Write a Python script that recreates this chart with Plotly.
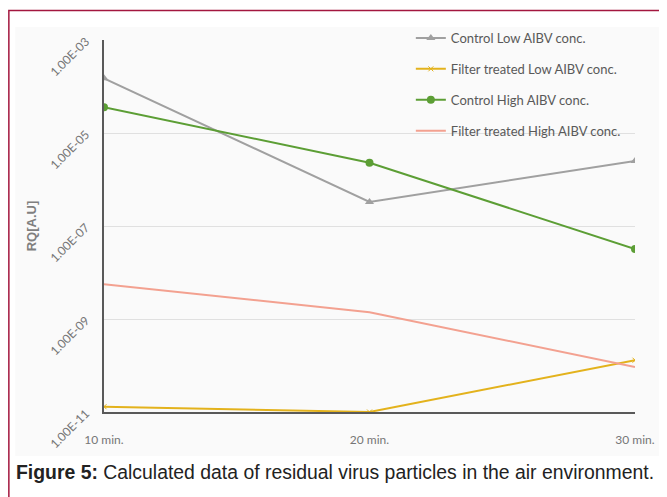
import plotly.graph_objects as go

times = ["10 min.", "20 min.", "30 min."]
control_low = [1.5e-4, 3.3e-7, 2.5e-6]
filter_low = [1.3e-11, 1.0e-11, 1.3e-10]
control_high = [3.6e-5, 2.3e-6, 3.2e-8]
filter_high = [5.6e-9, 1.4e-9, 9.3e-11]
ytick_vals = [1e-11, 1e-9, 1e-7, 1e-5, 1e-3]
ytick_text = ["1.00E-11", "1.00E-09", "1.00E-07", "1.00E-05", "1.00E-03"]

FONT = "Lato, Liberation Sans, Arial"
OFF = 8  # default page body margin
W, H = 667 - OFF, 497 - OFF
L, R, T, B = 104 - OFF, 30, 40 - OFF, 85
pw, ph = W - L - R, H - T - B

def px(x):
    return (x - OFF - L) / pw

def py(y):
    return (H - B - (y - OFF)) / ph

fig = go.Figure()
series = [
    ("Control Low AIBV conc.", control_low, "#a0a0a0", dict(symbol="triangle-up", size=8)),
    ("Filter treated Low AIBV conc.", filter_low, "#e3b21c", dict(symbol="x-thin", size=5, line=dict(width=1, color="#e3b21c"))),
    ("Control High AIBV conc.", control_high, "#5c9e35", dict(symbol="circle", size=8)),
    ("Filter treated High AIBV conc.", filter_high, "#f3a190", None),
]
for i, (name, vals, col, mk) in enumerate(series):
    fig.add_trace(go.Scatter(
        x=times, y=vals, name=name, legendgroup=f"g{i}",
        mode="lines+markers" if mk else "lines",
        line=dict(color=col, width=2),
        marker=dict(color=col, **mk) if mk else None,
    ))

fig.update_layout(
    width=W, height=H,
    margin=dict(l=L, r=R, t=T, b=B),
    paper_bgcolor="white", plot_bgcolor="rgba(0,0,0,0)",
    font=dict(family=FONT, color="#7f7f7f", size=11),
    showlegend=True,
    legend=dict(x=px(412), y=py(23), xanchor="left", yanchor="top",
                bgcolor="rgba(0,0,0,0)", font=dict(size=13, color="#595959", family=FONT),
                tracegroupgap=11, itemwidth=30),
    xaxis=dict(type="category", range=[0, 2], showgrid=False, showline=True,
               linecolor="#595959", linewidth=1.5, ticks="outside", ticklen=16,
               tickcolor="rgba(0,0,0,0)", tickfont=dict(size=12, color="#767676", family=FONT)),
    yaxis=dict(type="log", range=[-11, -3], tickvals=ytick_vals, ticktext=ytick_text,
               tickangle=-45, showgrid=True, gridcolor="#e0e0e0", gridwidth=1,
               showline=True, linecolor="#595959", linewidth=1.5, ticks="outside", ticklen=14,
               tickcolor="rgba(0,0,0,0)",
               tickfont=dict(size=12, color="#767676", family=FONT), zeroline=False),
    shapes=[
        dict(type="rect", xref="paper", yref="paper", x0=px(15), x1=px(661), y0=py(456), y1=py(27),
             fillcolor="#fafafa", line=dict(width=0), layer="below"),
        dict(type="rect", xref="paper", yref="paper", x0=px(8.5), x1=px(700), y0=py(530), y1=py(10.5),
             fillcolor="rgba(0,0,0,0)", line=dict(color="#a3173f", width=1.5), layer="above"),
    ],
    annotations=[
        dict(text="<b>RQ[A.U]</b>", xref="paper", yref="paper", x=px(31), y=py(226), textangle=-90,
             showarrow=False, font=dict(size=13, color="#7f7f7f", family="Liberation Sans, Arial"),
             xanchor="center", yanchor="middle"),
        dict(text="<b>Figure 5:</b> Calculated data of residual virus particles in the air environment.",
             xref="paper", yref="paper", x=px(14), y=py(472), xanchor="left", yanchor="middle",
             showarrow=False, font=dict(size=19.4, color="#222222", family="Liberation Sans, Arial")),
    ],
)

fig.write_html("out.html")
